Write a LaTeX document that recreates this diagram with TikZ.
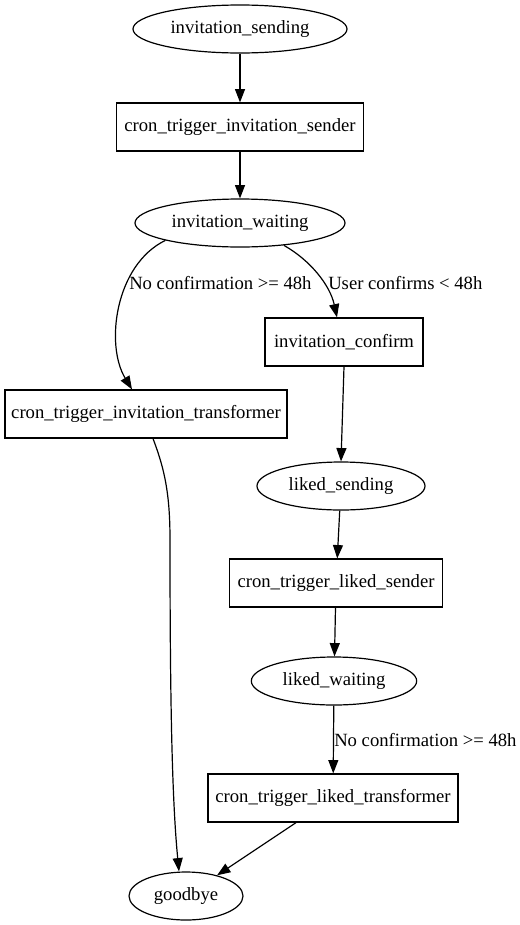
\documentclass[tikz,border=0pt]{standalone}
\usepackage{fontspec}
\setmainfont{Liberation Serif}
\usetikzlibrary{shapes.geometric,arrows.meta}
\begin{document}
\begin{tikzpicture}[x=0.75pt,y=-0.75pt,
  every node/.style={font=\fontsize{14pt}{16pt}\selectfont},
  st/.style={draw,ellipse,line width=0.9pt,inner sep=0pt,minimum height=36pt},
  bx/.style={draw,rectangle,line width=0.9pt,inner sep=0pt,minimum height=36pt},
  lbl/.style={anchor=west,inner sep=0pt},
  edge/.style={draw,line width=0.9pt,-{Triangle[length=10pt,width=7.5pt]}}]
\useasboundingbox (0,0) rectangle (519,925);
\node[st,minimum width=160.5pt] (s1) at (240,29) {invitation\_sending};
\node[bx,minimum width=185pt] (c1) at (240,127) {cron\_trigger\_invitation\_sender};
\node[st,minimum width=157.5pt] (w1) at (240,223) {invitation\_waiting};
\node[bx,minimum width=118.5pt] (ic) at (344,342) {invitation\_confirm};
\node[bx,minimum width=211.5pt] (ct) at (146,414) {cron\_trigger\_invitation\_transformer};
\node[st,minimum width=126pt] (ls) at (341,486) {liked\_sending};
\node[bx,minimum width=160pt] (lc) at (336,583) {cron\_trigger\_liked\_sender};
\node[st,minimum width=124pt] (lw) at (334,681) {liked\_waiting};
\node[bx,minimum width=187.5pt] (lt) at (333,798) {cron\_trigger\_liked\_transformer};
\node[st,minimum width=85.5pt] (gb) at (186,896) {goodbye};
\node[lbl] (l1) at (129,283) {No confirmation >= 48h};
\node[lbl] (l2) at (328,283) {User confirms < 48h};
\node[lbl] (l3) at (334,740) {No confirmation >= 48h};
\path[edge] (s1) -- (c1);
\path[edge] (c1) -- (w1);
\path[edge] (w1.south west) .. controls (115,265) and (105,345) .. ([xshift=-10.5pt]ct.north);
\path[edge] (w1.-27) .. controls (310,260) and (330,285) .. ([xshift=-5.25pt]ic.north);
\path[edge] (ic.south) -- (ls.north);
\path[edge] ([xshift=5.25pt]ct.south) .. controls (165,470) and (170,495) .. (170,540) .. controls (170,700) and (172,800) .. ([xshift=-5.25pt]gb.north);
\path[edge] (ls) -- (lc);
\path[edge] (lc) -- (lw);
\path[edge] (lw) -- (lt);
\path[edge] (lt) -- (gb);
\end{tikzpicture}
\end{document}
